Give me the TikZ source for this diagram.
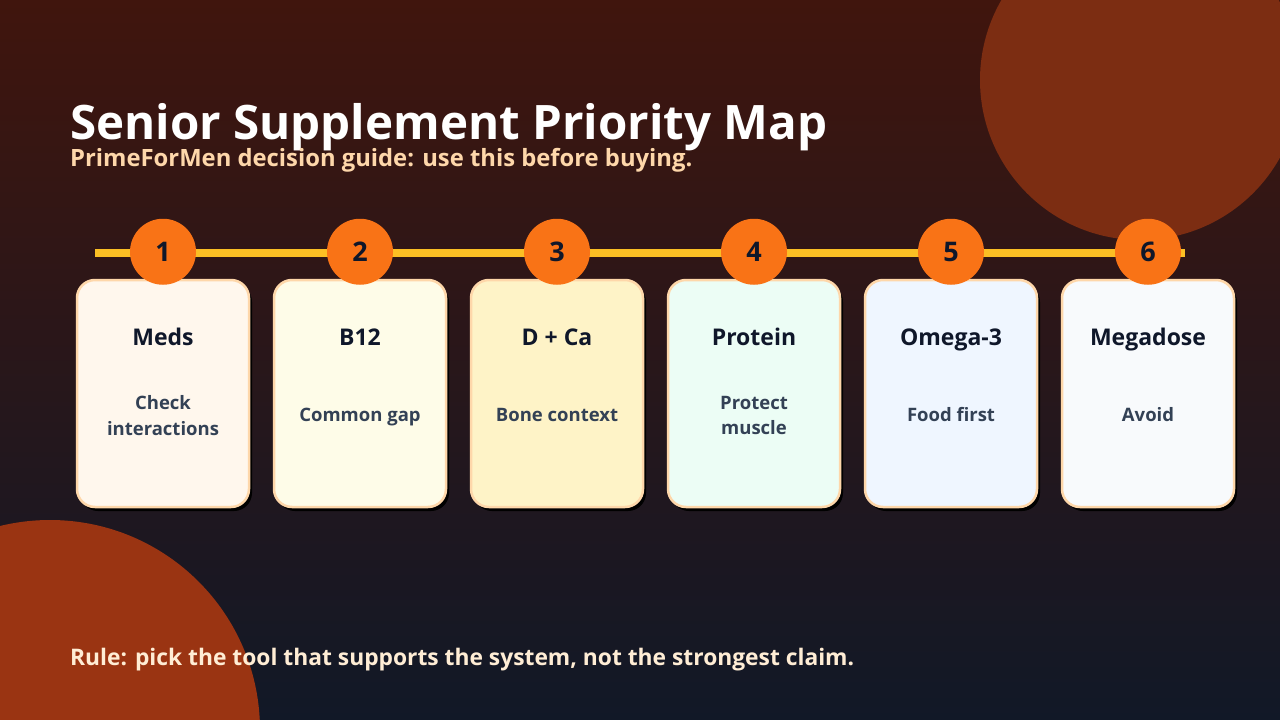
\documentclass[tikz,border=0pt]{standalone}
\usepackage{fontspec}
\setmainfont{Open Sans}
\usetikzlibrary{positioning, shadows}

\definecolor{bgtop}{HTML}{40150D}
\definecolor{bgbot}{HTML}{111827}
\definecolor{blobA}{HTML}{7C2D12}
\definecolor{blobB}{HTML}{9A3412}
\definecolor{rail}{HTML}{FBBF24}
\definecolor{badge}{HTML}{F97316}
\definecolor{edge}{HTML}{FED7AA}
\definecolor{ink}{HTML}{0F172A}
\definecolor{note}{HTML}{334155}
\definecolor{peach}{HTML}{FED7AA}
\definecolor{cream}{HTML}{FFEDD5}
\definecolor{fillA}{HTML}{FFF7ED}
\definecolor{fillB}{HTML}{FEFCE8}
\definecolor{fillC}{HTML}{FEF3C7}
\definecolor{fillD}{HTML}{ECFDF5}
\definecolor{fillE}{HTML}{EFF6FF}
\definecolor{fillF}{HTML}{F8FAFC}

\begin{document}
\begin{tikzpicture}[x=1pt, y=-1pt,
  card/.style={rectangle, draw=edge, line width=2.5pt, rounded corners=18pt, minimum width=172pt, minimum height=227pt, inner sep=0pt,
    general shadow={fill=black, shadow xshift=3pt, shadow yshift=-4pt}},
  badgenode/.style={circle, fill=badge, minimum size=66pt, inner sep=0pt, font=\fontsize{27}{27}\selectfont\bfseries, text=ink},
  cardtitle/.style={anchor=base, inner sep=0pt, font=\fontsize{23}{26}\selectfont\bfseries, text=ink},
  cardnote/.style={font=\fontsize{18.5}{25.5}\selectfont\bfseries, text=note, align=center},
  node distance=22.5pt]
\useasboundingbox (0,0) rectangle (1280,720);
\clip (0,0) rectangle (1280,720);
\shade[top color=bgtop, bottom color=bgbot] (0,0) rectangle (1280,720);
\fill[blobA] (1140,80) circle[radius=160];
\fill[blobB] (50,730) circle[radius=210];

% heading
\node[anchor=base west, inner sep=0pt, text=white, font=\fontsize{47.5}{50}\selectfont\bfseries] (title) at (70,139) {Senior Supplement Priority Map};
\node[anchor=base west, inner sep=0pt, text=peach, font=\fontsize{23.8}{26}\selectfont\bfseries] (subtitle) at (70,166) {PrimeForMen decision guide: use this before buying.};

% rail
\coordinate (railL) at (95,253);
\coordinate (railR) at (1185,253);
\draw[rail, line width=8pt] (railL) -- (railR);

% cards
\node[card, fill=fillA] (c1) at (163,393.5) {};
\node[card, fill=fillB, right=of c1] (c2) {};
\node[card, fill=fillC, right=of c2] (c3) {};
\node[card, fill=fillD, right=of c3] (c4) {};
\node[card, fill=fillE, right=of c4] (c5) {};
\node[card, fill=fillF, right=of c5] (c6) {};

% badges
\node[badgenode] (n1) at ([yshift=27pt]c1.north) {1};
\node[badgenode] (n2) at ([yshift=27pt]c2.north) {2};
\node[badgenode] (n3) at ([yshift=27pt]c3.north) {3};
\node[badgenode] (n4) at ([yshift=27pt]c4.north) {4};
\node[badgenode] (n5) at ([yshift=27pt]c5.north) {5};
\node[badgenode] (n6) at ([yshift=27pt]c6.north) {6};

% card texts
\node[cardtitle] (t1) at ([yshift=-67pt]c1.north) {Meds};
\node[cardtitle] (t2) at ([yshift=-67pt]c2.north) {B12};
\node[cardtitle] (t3) at ([yshift=-67pt]c3.north) {D + Ca};
\node[cardtitle] (t4) at ([yshift=-67pt]c4.north) {Protein};
\node[cardtitle] (t5) at ([yshift=-67pt]c5.north) {Omega-3};
\node[cardtitle] (t6) at ([yshift=-67pt]c6.north) {Megadose};

\node[cardnote] (d1) at ([yshift=-22pt]c1.center) {Check\\interactions};
\node[cardnote, anchor=base] (d2) at ([yshift=-27.5pt]c2.center) {Common gap};
\node[cardnote, anchor=base] (d3) at ([yshift=-27.5pt]c3.center) {Bone context};
\node[cardnote] (d4) at ([yshift=-22pt]c4.center) {Protect\\muscle};
\node[cardnote, anchor=base] (d5) at ([yshift=-27.5pt]c5.center) {Food first};
\node[cardnote, anchor=base] (d6) at ([yshift=-27.5pt]c6.center) {Avoid};

% footer
\node[anchor=base west, inner sep=0pt, text=cream, font=\fontsize{22.8}{25}\selectfont\bfseries] (rule) at (70,665) {Rule: pick the tool that supports the system, not the strongest claim.};
\end{tikzpicture}
\end{document}
